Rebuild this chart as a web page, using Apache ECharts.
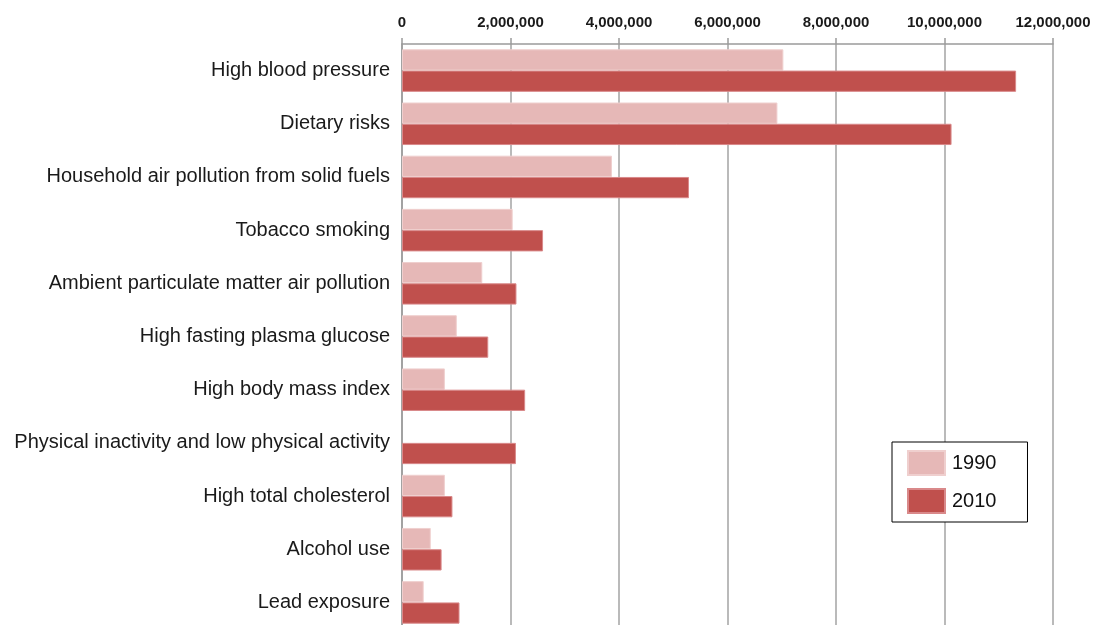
<!DOCTYPE html>
<html>
<head>
<meta charset="utf-8">
<script src="https://cdn.jsdelivr.net/npm/echarts@6/dist/echarts.min.js"></script>
<style>
html,body{margin:0;padding:0;background:#fff;}
#chart{width:1096px;height:625px;}
</style>
</head>
<body>
<div id="chart"></div>
<script>
const categories = [
  "High blood pressure",
  "Dietary risks",
  "Household air pollution from solid fuels",
  "Tobacco smoking",
  "Ambient particulate matter air pollution",
  "High fasting plasma glucose",
  "High body mass index",
  "Physical inactivity and low physical activity",
  "High total cholesterol",
  "Alcohol use",
  "Lead exposure"
];
const values1990 = [7030000, 6920000, 3870000, 2040000, 1480000, 1010000, 790000, null, 790000, 530000, 400000];
const values2010 = [11320000, 10130000, 5290000, 2600000, 2110000, 1590000, 2270000, 2100000, 930000, 730000, 1060000];
const xTicks = { min: 0, max: 12000000, interval: 2000000 };

const chart = echarts.init(document.getElementById('chart'));
const labelFont = "'Liberation Sans', Arial, sans-serif";
chart.setOption({
  animation: false,
  backgroundColor: '#fff',
  grid: { left: 402, right: 43, top: 44, bottom: -4, containLabel: false, outerBoundsMode: 'none' },
  legend: {
    orient: 'vertical',
    left: 892, top: 442,
    padding: [8, 31, 8, 15],
    itemWidth: 37, itemHeight: 24, itemGap: 12,
    backgroundColor: '#fff',
    borderColor: '#000', borderWidth: 1, borderRadius: 0,
    textStyle: { fontFamily: labelFont, fontSize: 20, color: '#111', padding: [0, 0, 0, 2] },
    data: [
      { name: '1990', icon: 'rect' },
      { name: '2010', icon: 'rect' }
    ]
  },
  xAxis: {
    type: 'value',
    position: 'top',
    min: xTicks.min, max: xTicks.max, interval: xTicks.interval,
    axisLine: { show: true, lineStyle: { color: '#9a9a9a', width: 1.5 } },
    axisTick: { show: true, inside: false, length: 6, lineStyle: { color: '#9a9a9a', width: 1.5 } },
    splitLine: { show: true, lineStyle: { color: '#a3a3a3', width: 1.5 } },
    axisLabel: {
      margin: 14,
      fontFamily: labelFont, fontWeight: 'bold', fontSize: 15, color: '#1a1a1a',
      formatter: v => v.toLocaleString('en-US')
    }
  },
  yAxis: {
    type: 'category',
    inverse: true,
    data: categories,
    axisLine: { show: true, lineStyle: { color: '#9a9a9a', width: 1.5 } },
    axisTick: { show: false },
    splitLine: { show: false },
    axisLabel: {
      margin: 12,
      fontFamily: labelFont, fontSize: 20, color: '#1a1a1a'
    }
  },
  series: [
    {
      name: '1990', type: 'bar', data: values1990,
      barCategoryGap: '20%', barGap: '0%',
      itemStyle: { color: '#e6b8b7', borderColor: '#efcfce', borderWidth: 1 }
    },
    {
      name: '2010', type: 'bar', data: values2010,
      barCategoryGap: '20%', barGap: '0%',
      itemStyle: { color: '#c0504d', borderColor: '#d9898a', borderWidth: 1 }
    }
  ]
});
</script>
</body>
</html>
